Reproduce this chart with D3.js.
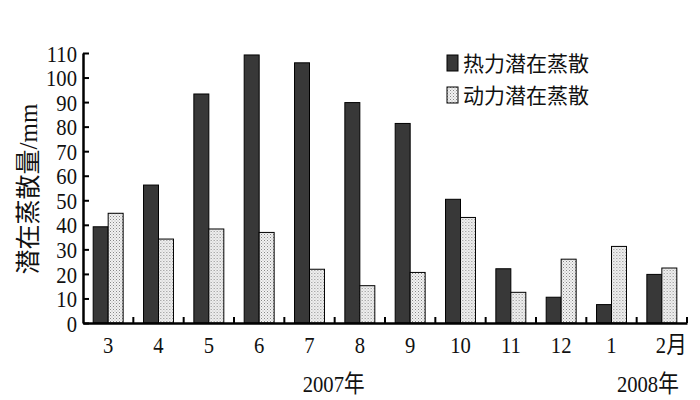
<!DOCTYPE html>
<meta charset="utf-8">
<style>
body { margin: 0; background: #fff; }
text { font-family: "Liberation Serif", "Noto Sans CJK SC", serif; fill: #111; }
</style>
<body>
<div id="chart"></div>
<script src="https://d3js.org/d3.v7.min.js"></script>
<script>
var months = ['3', '4', '5', '6', '7', '8', '9', '10', '11', '12', '1', '2']
var thermal = [39.2, 56.2, 93.3, 109.2, 106, 89.8, 81.3, 50.4, 22.1, 10.5, 7.5, 19.8]
var dynamic = [44.7, 34.2, 38.3, 36.9, 21.9, 15.2, 20.6, 43, 12.5, 26, 31.2, 22.4]
var seriesNames = ['热力潜在蒸散', '动力潜在蒸散']
var yTicks = [0, 10, 20, 30, 40, 50, 60, 70, 80, 90, 100, 110]

var width = 700
var height = 400
var margin = { top: 53, right: 13, bottom: 77, left: 83 }
var sx = 0.86   // the numbers in the source are narrow and tall

var svg = d3.select('#chart')
    .append('svg')
    .attr('width', width)
    .attr('height', height)

// dotted fill for the second series
var defs = svg.append('defs')
var pat = defs.append('pattern')
    .attr('id', 'dots')
    .attr('width', 3)
    .attr('height', 3)
    .attr('patternUnits', 'userSpaceOnUse')
pat.append('rect').attr('width', 3).attr('height', 3).attr('fill', '#f2f2f2')
pat.append('rect').attr('width', 1).attr('height', 1).attr('fill', '#888')
pat.append('rect').attr('x', 1.5).attr('y', 1.5).attr('width', 1).attr('height', 1).attr('fill', '#aaa')

var x = d3.scaleBand()
    .domain(months)
    .range([margin.left, width - margin.right])

var xs = d3.scaleBand()
    .domain([0, 1])
    .range([0, x.bandwidth()])
    .paddingOuter(0.68)

var y = d3.scaleLinear()
    .domain([0, 110])
    .range([height - margin.bottom, margin.top])

var fills = ['#383838', 'url(#dots)']

var data = months.map(function (m, i) {
    return { month: m, values: [thermal[i], dynamic[i]] }
})

var groups = svg.selectAll('g.month')
    .data(data)
    .enter()
    .append('g')
    .attr('class', 'month')
    .attr('transform', function (d) { return 'translate(' + x(d.month) + ',0)' })

groups.selectAll('rect')
    .data(function (d) { return d.values })
    .enter()
    .append('rect')
    .attr('x', function (d, i) { return xs(i) })
    .attr('width', xs.bandwidth())
    .attr('y', function (d) { return y(d) })
    .attr('height', function (d) { return y(0) - y(d) })
    .style('fill', function (d, i) { return fills[i] })
    .style('stroke', '#000')
    .style('stroke-width', 1)

// y axis, ticks pointing inward
var yAxis = d3.axisLeft(y)
    .tickValues(yTicks)
    .tickSize(-6)
    .tickPadding(6)
    .tickSizeOuter(0)

var gy = svg.append('g')
    .attr('transform', 'translate(' + margin.left + ',0)')
    .call(yAxis)
gy.select('.domain').style('stroke', '#000').style('stroke-width', 2.5)
gy.selectAll('.tick line').style('stroke', '#000').style('stroke-width', 2)
gy.selectAll('.tick text')
    .style('font-size', '24px')
    .attr('x', -6 / sx)
    .attr('dy', '0.34em')
    .attr('transform', 'scale(' + sx + ',1)')

// x axis
var xAxis = d3.axisBottom(x)
    .tickSize(0)
    .tickPadding(14)
    .tickFormat(function (d) { return d === '2' ? '2月' : d })

var gx = svg.append('g')
    .attr('transform', 'translate(0,' + y(0) + ')')
    .call(xAxis)
gx.select('.domain').style('stroke', '#000').style('stroke-width', 2.5)
gx.selectAll('.tick text')
    .style('font-size', '24px')
    .attr('dy', '0.66em')
    .attr('dx', function (d) { return d === '2' ? 11 : 0 })
    .attr('transform', 'scale(' + sx + ',1)')

gx.selectAll('line.sep')
    .data(months)
    .enter()
    .append('line')
    .attr('class', 'sep')
    .attr('x1', function (d) { return x(d) + x.bandwidth() })
    .attr('x2', function (d) { return x(d) + x.bandwidth() })
    .attr('y1', 0)
    .attr('y2', -6)
    .style('stroke', '#000')
    .style('stroke-width', 2)

// year labels
svg.append('text')
    .attr('transform', 'translate(' + (x('8') - 1) + ',392) scale(' + sx + ',1)')
    .style('font-size', '24px')
    .attr('text-anchor', 'middle')
    .text('2007年')

svg.append('text')
    .attr('transform', 'translate(' + (x('2') + x.bandwidth() / 2 - 14) + ',392) scale(' + sx + ',1)')
    .style('font-size', '24px')
    .attr('text-anchor', 'middle')
    .text('2008年')

// y label
svg.append('text')
    .attr('transform', 'translate(37,189) rotate(-90)')
    .attr('text-anchor', 'middle')
    .style('font-size', '25px')
    .text('潜在蒸散量/mm')

// legend
var legend = svg.selectAll('g.legend')
    .data(seriesNames)
    .enter()
    .append('g')
    .attr('class', 'legend')
    .attr('transform', function (d, i) { return 'translate(447,' + (55 + i * 32) + ')' })

legend.append('rect')
    .attr('width', 11)
    .attr('height', 16)
    .style('fill', function (d, i) { return fills[i] })
    .style('stroke', '#000')
    .style('stroke-width', 1)

legend.append('text')
    .attr('x', 16)
    .attr('y', 8)
    .attr('dy', '0.36em')
    .style('font-size', '21px')
    .text(function (d) { return d })
</script>
</body>
